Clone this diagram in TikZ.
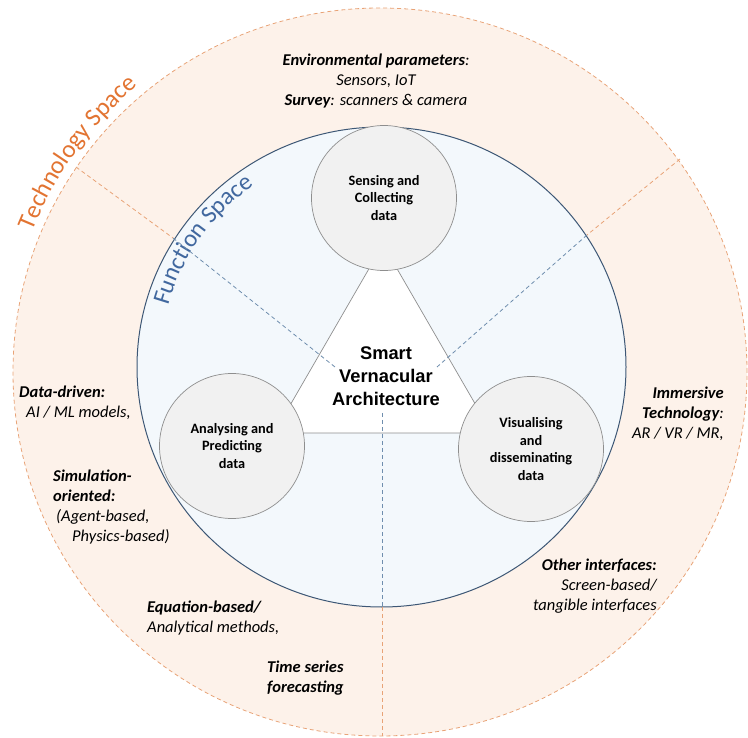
\documentclass[tikz,border=0pt]{standalone}
\usepackage{fontspec}
\setmainfont{Carlito}
\newfontfamily\archfont{Liberation Sans}
\usetikzlibrary{decorations.text}

\definecolor{techfill}{HTML}{FDF2EA}
\definecolor{techline}{HTML}{E8A377}
\definecolor{techtext}{HTML}{E27432}
\definecolor{funcfill}{HTML}{F3F8FC}
\definecolor{funcline}{HTML}{3D5775}
\definecolor{functext}{HTML}{41689F}
\definecolor{funcdash}{HTML}{6F8EAE}
\definecolor{roleline}{HTML}{8E8E8E}
\definecolor{rolefill}{HTML}{F1F1F1}

\begin{document}
\begin{tikzpicture}[x=1pt,y=1pt,
  rolecircle/.style={circle, draw=roleline, fill=rolefill, line width=0.7pt,
    minimum size=145pt, inner sep=0pt, align=center,
    font=\fontsize{14.3}{17.5}\selectfont\bfseries},
  techlabel/.style={inner sep=0pt, font=\fontsize{16.5}{20}\selectfont\itshape},
  techdash/.style={draw=techline, dash pattern=on 4pt off 3pt, line width=0.8pt},
  funcdashed/.style={draw=funcdash, dash pattern=on 4pt off 3pt, line width=0.8pt},
  archlabel/.style={inner sep=0pt, align=center,
    font=\archfont\fontsize{18.3}{23}\selectfont\bfseries}
]
\useasboundingbox (0,0) rectangle (748,-738);

% technology space (outer ring)
\draw[techdash, fill=techfill] (380,-372) ellipse [x radius=367, y radius=364];
% function space (inner disc)
\draw[draw=funcline, fill=funcfill, line width=1pt] (381.5,-367) ellipse [x radius=244.5, y radius=240];

% curved titles of the two spaces
\path[decorate, decoration={text along path, text color=techtext,
    text={|\fontsize{25}{25}\selectfont|Technology Space}}]
  (380,-372) ++(158:375) arc[start angle=158, end angle=105, radius=375];
\path[decorate, decoration={text along path, text color=functext,
    text={|\fontsize{24.5}{24.5}\selectfont|Function Space}}]
  (381.5,-367) ++(164:222) arc[start angle=164, end angle=95, radius=222];

% central triangle
\coordinate (triTop) at (383,-244.5);
\coordinate (triLeft) at (274,-433);
\coordinate (triRight) at (492,-433);
\draw[roleline, fill=white, line width=0.7pt] (triTop) -- (triLeft) -- (triRight) -- cycle;

% sector dividers
\coordinate (ulOut) at (76,-167);
\coordinate (ulRim) at (173,-238);
\coordinate (ulEnd) at (335,-367);
\coordinate (urOut) at (680,-159);
\coordinate (urRim) at (587,-235);
\coordinate (urEnd) at (437,-367);
\coordinate (btEnd) at (382,-413);
\coordinate (btRim) at (382,-607);
\coordinate (btOut) at (382,-736);
\draw[techdash] (ulOut) -- (ulRim);
\draw[funcdashed] (ulRim) -- (ulEnd);
\draw[techdash] (urOut) -- (urRim);
\draw[funcdashed] (urRim) -- (urEnd);
\draw[funcdashed] (btEnd) -- (btRim);
\draw[techdash] (btRim) -- (btOut);

% the three functions
\node[rolecircle] (sense) at (384,-198) {Sensing and\\Collecting\\data};
\node[rolecircle] (analyse) at (232,-446) {Analysing and\\Predicting\\data};
\node[rolecircle] (visual) at (531,-449) {Visualising\\and\\disseminating\\data};

\node[archlabel] (sva) at (386,-376.3) {Smart\\Vernacular\\Architecture};

% technologies
\node[techlabel, align=center] (sensetech) at (376,-81)
  {\textbf{Environmental parameters}:\\Sensors, IoT\\\textbf{Survey}: scanners \& camera};
\node[techlabel, align=left, anchor=west] (datadriven) at (19,-402.5)
  {\textbf{Data-driven:}\\\hspace*{7pt}AI / ML models,};
\node[techlabel, align=left, anchor=west] (simulation) at (53,-507)
  {\textbf{Simulation-}\\\textbf{oriented:}\\\hspace*{3pt}(Agent-based,\\\hspace*{19pt}Physics-based)};
\node[techlabel, align=left, anchor=west] (equation) at (147,-618)
  {\textbf{Equation-based/}\\Analytical methods,};
\node[techlabel, align=left, anchor=west] (timeseries) at (267,-678.5)
  {\textbf{Time series}\\\textbf{forecasting}};
\node[techlabel, align=right, anchor=east] (immersive) at (724,-414)
  {\textbf{Immersive}\\\textbf{Technology}:\\AR / VR / MR,};
\node[techlabel, align=right, anchor=east] (interfaces) at (657,-586.5)
  {\textbf{Other interfaces:}\\Screen-based/\\tangible interfaces};
\end{tikzpicture}
\end{document}
